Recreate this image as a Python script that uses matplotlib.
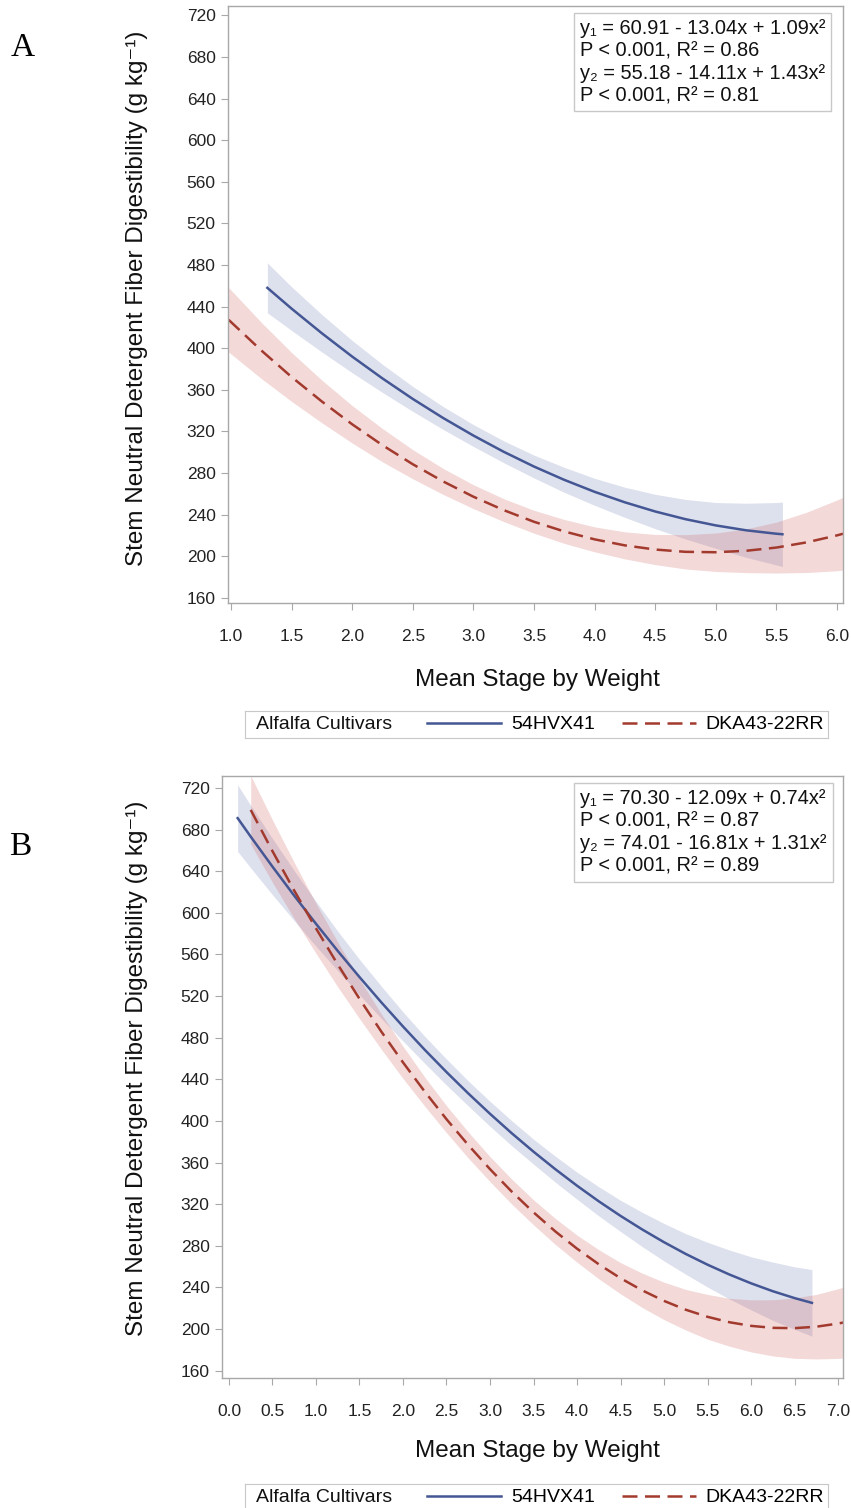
import matplotlib
matplotlib.use("Agg")
import matplotlib.pyplot as plt

plt.rcParams['font.family'] = ['Liberation Sans', 'DejaVu Sans']

cultivars = ["54HVX41", "DKA43-22RR"]
legend_title = "Alfalfa Cultivars"
ylabel = "Stem Neutral Detergent Fiber Digestibility (g kg\u207b\u00b9)"
xlabel = "Mean Stage by Weight"
yticks = [160, 200, 240, 280, 320, 360, 400, 440, 480, 520, 560, 600, 640, 680, 720]

# ---- panel A ----  (fitted curve values and band half-widths)
a_xticks = [1.0, 1.5, 2.0, 2.5, 3.0, 3.5, 4.0, 4.5, 5.0, 5.5, 6.0]
a_x_blue = [1.3, 1.5, 1.75, 2.0, 2.25, 2.5, 2.75, 3.0, 3.25, 3.5, 3.75, 4.0, 4.25, 4.5, 4.75, 5.0, 5.25, 5.5, 5.55]
a_y_blue = [458.0, 438.0, 414.3, 391.9, 370.9, 351.2, 332.9, 316.0, 300.4, 286.2, 273.4, 261.9, 251.8, 243.0, 235.6, 229.6, 224.9, 221.6, 221.1]
a_h_blue = [24, 21, 18, 15.5, 13.5, 12, 11, 10.5, 10.5, 11, 12, 13, 14.5, 16.5, 19, 22, 26, 30, 31]
a_x_red = [0.98, 1.25, 1.5, 1.75, 2.0, 2.25, 2.5, 2.75, 3.0, 3.25, 3.5, 3.75, 4.0, 4.25, 4.5, 4.75, 5.0, 5.25, 5.5, 5.75, 6.0, 6.05]
a_y_red = [427.3, 397.8, 372.3, 348.7, 326.8, 306.7, 288.4, 271.9, 257.2, 244.3, 233.1, 223.8, 216.2, 210.4, 206.4, 204.2, 203.8, 205.2, 208.3, 213.3, 220.0, 221.6]
a_h_red = [31, 27, 23.5, 20.5, 18, 16, 14, 12.5, 11.5, 11, 11, 11.5, 12, 13, 14.5, 16.5, 18.5, 21, 24.5, 29, 34, 35]
a_eq = ("y\u2081 = 60.91 - 13.04x + 1.09x\u00b2\nP < 0.001, R\u00b2 = 0.86\n"
        "y\u2082 = 55.18 - 14.11x + 1.43x\u00b2\nP < 0.001, R\u00b2 = 0.81")

# ---- panel B ----
b_xticks = [0.0, 0.5, 1.0, 1.5, 2.0, 2.5, 3.0, 3.5, 4.0, 4.5, 5.0, 5.5, 6.0, 6.5, 7.0]
b_x_blue = [0.1, 0.25, 0.5, 0.75, 1.0, 1.25, 1.5, 1.75, 2.0, 2.25, 2.5, 2.75, 3.0, 3.25, 3.5, 3.75, 4.0, 4.25, 4.5, 4.75, 5.0, 5.25, 5.5, 5.75, 6.0, 6.25, 6.5, 6.7]
b_y_blue = [691.0, 673.2, 644.4, 616.5, 589.5, 563.4, 538.3, 514.1, 490.8, 468.4, 447.0, 426.5, 406.9, 388.2, 370.5, 353.7, 337.8, 322.8, 308.8, 295.7, 283.5, 272.2, 261.9, 252.5, 244.0, 236.4, 229.8, 225.2]
b_h_blue = [32, 30, 27, 24, 21.5, 19, 17, 15.5, 14, 13, 12.5, 12, 12, 12, 12, 12.5, 13, 14, 15, 16.5, 18, 19.5, 21.5, 23.5, 25.5, 28, 30, 32]
b_x_red = [0.25, 0.5, 0.75, 1.0, 1.25, 1.5, 1.75, 2.0, 2.25, 2.5, 2.75, 3.0, 3.25, 3.5, 3.75, 4.0, 4.25, 4.5, 4.75, 5.0, 5.25, 5.5, 5.75, 6.0, 6.25, 6.5, 6.75, 7.0, 7.06]
b_y_red = [698.9, 659.3, 621.4, 585.1, 550.4, 517.4, 486.0, 456.3, 428.2, 401.7, 376.9, 353.7, 332.1, 312.2, 293.9, 277.3, 262.3, 248.9, 237.2, 227.1, 218.6, 211.8, 206.6, 203.1, 201.2, 200.9, 202.3, 205.3, 206.3]
b_h_red = [33, 30, 27, 24, 21.5, 19, 17, 15.5, 14, 13, 12.5, 12, 12, 12, 12.5, 13, 14, 15, 16.5, 18, 19.5, 21.5, 23, 25, 27, 29, 31, 33.5, 34]
b_eq = ("y\u2081 = 70.30 - 12.09x + 0.74x\u00b2\nP < 0.001, R\u00b2 = 0.87\n"
        "y\u2082 = 74.01 - 16.81x + 1.31x\u00b2\nP < 0.001, R\u00b2 = 0.89")

W, H = 851, 1508
fig = plt.figure(figsize=(W / 100, H / 100), dpi=100)


def band(y, h):
    return [v - d for v, d in zip(y, h)], [v + d for v, d in zip(y, h)]


def panel(ax, xb, yb, hb, xr, yr, hr, xlim, ylim, xticks, eq, eq_x):
    lo, hi = band(yb, hb)
    ax.fill_between(xb, lo, hi, color='#6F7EB3', alpha=0.23, lw=0)
    lo, hi = band(yr, hr)
    ax.fill_between(xr, lo, hi, color='#D05B5B', alpha=0.23, lw=0)
    lb, = ax.plot(xb, yb, color='#445694', lw=1.8)
    lr, = ax.plot(xr, yr, color='#A23A2E', lw=1.8, ls=(0, (6, 3)))
    ax.set_xlim(*xlim)
    ax.set_ylim(*ylim)
    ax.set_xticks(xticks)
    ax.set_xticklabels(["%.1f" % t for t in xticks])
    ax.set_yticks(yticks)
    for s in ax.spines.values():
        s.set_color('#A8A8A8')
        s.set_linewidth(1.0)
    ax.tick_params(direction='out', length=5, width=0.8, color='#A8A8A8',
                   labelsize=12.5, labelcolor='#222222')
    ax.tick_params(axis='x', pad=14)
    ax.tick_params(axis='y', pad=4)
    ax.text(eq_x, 0.978, eq, transform=ax.transAxes, ha='left', va='top',
            fontsize=14.4, linespacing=1.23, color='#111111',
            bbox=dict(boxstyle='square,pad=0.3', fc='white', ec='#C8C8C8', lw=1.0))
    return lb, lr


axA = fig.add_axes([228 / W, 1 - 603 / H, 615 / W, 597 / H])
lbA, lrA = panel(axA, a_x_blue, a_y_blue, a_h_blue, a_x_red, a_y_red, a_h_red,
                 (0.975, 6.05), (155, 729), a_xticks, a_eq, 0.572)

axB = fig.add_axes([222 / W, 1 - 1378 / H, 621 / W, 602 / H])
lbB, lrB = panel(axB, b_x_blue, b_y_blue, b_h_blue, b_x_red, b_y_red, b_h_red,
                 (-0.08, 7.057), (153, 731.5), b_xticks, b_eq, 0.5765)

# axis titles and panel letters
for yl_y, xl_y in [(298, 680), (1068, 1451)]:
    fig.text(137 / W, 1 - yl_y / H, ylabel, rotation=90, ha='center', va='center',
             fontsize=17.5, color='#111111')
    fig.text(537 / W, 1 - xl_y / H, xlabel, ha='center', va='center',
             fontsize=17.5, color='#111111')
fig.text(23 / W, 1 - 48 / H, "A", family='Liberation Serif', fontsize=24,
         ha='center', va='center')
fig.text(20 / W, 1 - 847 / H, "B", family='Liberation Serif', fontsize=24,
         ha='center', va='center')

# legends
for top, handles in [(711, (lbA, lrA)), (1484, (lbB, lrB))]:
    lg = fig.add_axes([245 / W, 1 - (top + 27) / H, 583 / W, 27 / H])
    lg.set_xticks([])
    lg.set_yticks([])
    for s in lg.spines.values():
        s.set_color('#C8C8C8')
    lg.text(11 / 583, 0.5, legend_title, transform=lg.transAxes, ha='left',
            va='center', fontsize=14, color='#111111')
    lg.legend(handles=list(handles), labels=cultivars, ncol=2, loc='center right',
              frameon=False, fontsize=14, handlelength=3.8, handletextpad=0.5,
              columnspacing=1.4, borderaxespad=0.2, borderpad=0)

fig.savefig("out.png", dpi=100)
